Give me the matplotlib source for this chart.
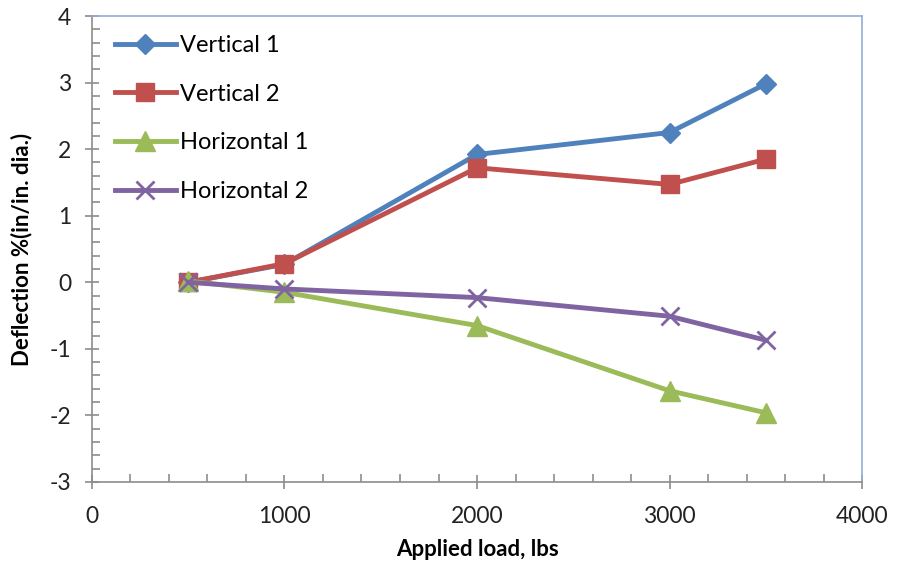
import matplotlib.pyplot as plt
from matplotlib.ticker import MultipleLocator

plt.rcParams['font.family'] = ['Lato', 'DejaVu Sans']
plt.rcParams['axes.unicode_minus'] = False

load = [500, 1000, 2000, 3000, 3500]
vertical_1 = [0.0, 0.27, 1.92, 2.25, 2.98]
vertical_2 = [0.0, 0.28, 1.72, 1.47, 1.85]
horizontal_1 = [0.02, -0.15, -0.65, -1.63, -1.96]
horizontal_2 = [0.0, -0.10, -0.23, -0.51, -0.87]

fig = plt.figure(figsize=(8.98, 5.64), dpi=100)
ax = fig.add_axes([0.1024, 0.1454, 0.8576, 0.8262])

ax.plot(load, vertical_1, color='#4F81BD', lw=3.5, marker='D', ms=10, label='Vertical 1')
ax.plot(load, vertical_2, color='#C0504D', lw=3.5, marker='s', ms=13, label='Vertical 2')
ax.plot(load, horizontal_1, color='#9BBB59', lw=3.5, marker='^', ms=14, label='Horizontal 1')
ax.plot(load, horizontal_2, color='#8064A2', lw=3.5, marker='x', ms=13, mew=2, label='Horizontal 2')

ax.set_xlim(0, 4000)
ax.set_ylim(-3, 4)
ax.xaxis.set_major_locator(MultipleLocator(1000))
ax.xaxis.set_minor_locator(MultipleLocator(200))
ax.yaxis.set_major_locator(MultipleLocator(1))
ax.yaxis.set_minor_locator(MultipleLocator(0.2))

for s in ['left', 'bottom']:
    ax.spines[s].set_color('#8c8c8c')
    ax.spines[s].set_linewidth(1.2)
for s in ['top', 'right']:
    ax.spines[s].set_color('#8eaed6')
    ax.spines[s].set_linewidth(1.2)

ax.tick_params(which='major', direction='inout', length=10, width=1.2, color='#8c8c8c',
               labelsize=16.5, labelcolor='#222222')
ax.tick_params(which='minor', direction='in', length=6, width=1.2, color='#8c8c8c')
ax.tick_params(axis='x', which='major', pad=12)
ax.tick_params(axis='y', which='major', pad=10)

ax.set_xlabel('Applied load, lbs', fontsize=16, fontweight='bold', labelpad=9)
ax.set_ylabel('Deflection %(in/in. dia.)', fontsize=16, fontweight='bold', labelpad=12)

ax.legend(loc='upper left', frameon=False, fontsize=17, handlelength=2.6, handletextpad=0.15,
          labelspacing=1.17, borderaxespad=0.4, bbox_to_anchor=(0.005, 1.0))

fig.savefig('out.png', dpi=100)
